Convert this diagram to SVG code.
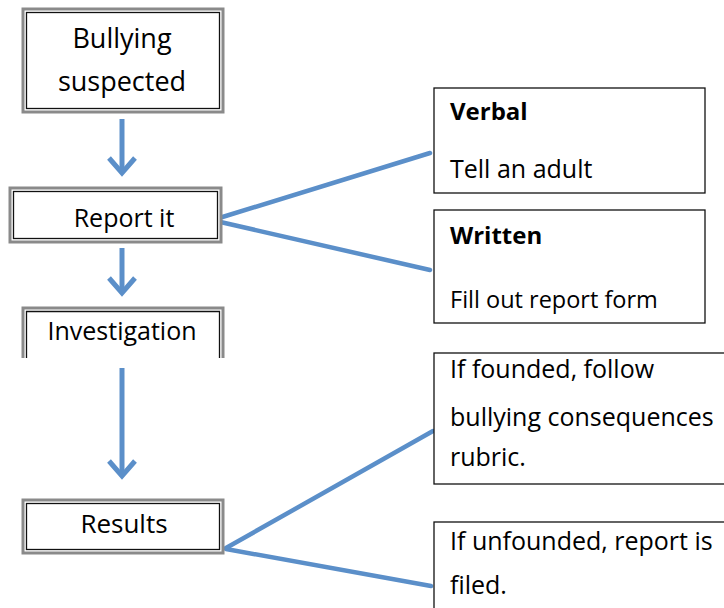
<svg xmlns="http://www.w3.org/2000/svg" width="724" height="608" viewBox="0 0 724 608">
<defs>
<style>
.dbl-o{fill:#fff;stroke:#8a8a8a;stroke-width:3}
.dbl-i{fill:none;stroke:#111;stroke-width:1.3}
.box{fill:#fff;stroke:#111;stroke-width:1.3}
.t{font-family:"Open Sans","Liberation Sans",sans-serif;fill:#000}
.c{text-anchor:middle}
.b{font-weight:bold}
.ln{stroke:#5b8fc9;stroke-width:4.5;stroke-linecap:round;fill:none}
.ar{stroke:#5b8fc9;stroke-width:5;fill:none}
</style>
</defs>
<g id="connectors">
<line class="ar" x1="122" y1="119" x2="122" y2="172"/>
<polyline class="ar" points="109,158 122,173 135,158"/>
<line class="ar" x1="122" y1="248" x2="122" y2="292"/>
<polyline class="ar" points="109,278 122,293 135,278"/>
<line class="ar" x1="122" y1="368" x2="122" y2="475"/>
<polyline class="ar" points="109,461 122,476 135,461"/>
<line class="ln" x1="216" y1="219" x2="430" y2="153"/>
<line class="ln" x1="216" y1="221" x2="430" y2="270"/>
<line class="ln" x1="226" y1="548" x2="433" y2="431"/>
<line class="ln" x1="226" y1="549" x2="431" y2="586"/>
</g>
<g id="bullying">
<rect class="dbl-o" x="23" y="9" width="200" height="103"/>
<rect class="dbl-i" x="26.5" y="12.5" width="193" height="96"/>
<text class="t c" x="122" y="48" font-size="27">Bullying</text>
<text class="t c" x="122" y="91" font-size="27">suspected</text>
</g>
<g id="report">
<rect class="dbl-o" x="10" y="188" width="211" height="54"/>
<rect class="dbl-i" x="13.5" y="191.5" width="204" height="47"/>
<text class="t c" x="124" y="227" font-size="25">Report it</text>
</g>
<g id="investigation">
<path d="M23,358 V308 H223 V358" fill="#fff" stroke="#8a8a8a" stroke-width="3"/>
<path d="M26.5,358 V311.5 H219.5 V358" fill="none" stroke="#111" stroke-width="1.3"/>
<text class="t c" x="122" y="340" font-size="25">Investigation</text>
</g>
<g id="results">
<rect class="dbl-o" x="23" y="500" width="200" height="53"/>
<rect class="dbl-i" x="26.5" y="503.5" width="193" height="46"/>
<text class="t c" x="124" y="533" font-size="26">Results</text>
</g>
<g id="verbal">
<rect class="box" x="434" y="88" width="271" height="105"/>
<text class="t b" x="450" y="120" font-size="24">Verbal</text>
<text class="t" x="450" y="178" font-size="25">Tell an adult</text>
</g>
<g id="written">
<rect class="box" x="434" y="210" width="271" height="113"/>
<text class="t b" x="450" y="244" font-size="24">Written</text>
<text class="t" x="450" y="308" font-size="23.5">Fill out report form</text>
</g>
<g id="founded">
<rect class="box" x="434" y="353" width="300" height="131"/>
<text class="t" x="450" y="378" font-size="25">If founded, follow</text>
<text class="t" x="450" y="426" font-size="25">bullying consequences</text>
<text class="t" x="450" y="466" font-size="25">rubric.</text>
</g>
<g id="unfounded">
<rect class="box" x="434" y="522" width="300" height="100"/>
<text class="t" x="450" y="550" font-size="25">If unfounded, report is</text>
<text class="t" x="450" y="594" font-size="25">filed.</text>
</g>
</svg>
